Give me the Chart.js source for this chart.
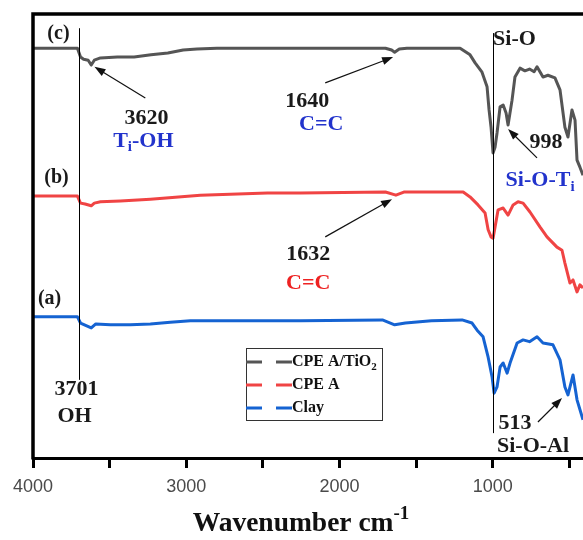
<!DOCTYPE html>
<html>
<head>
<meta charset="utf-8">
<script src="https://cdn.jsdelivr.net/npm/chart.js@4/dist/chart.umd.min.js"></script>
<style>
  html, body { margin: 0; padding: 0; background: #fff; overflow: hidden; }
</style>
</head>
<body>
<canvas id="ftir" width="583" height="540"></canvas>
<script>
// Tick positions along the reversed wavenumber axis
const xTicks = [4000, 3500, 3000, 2500, 2000, 1500, 1000, 500];
const xLabels = [4000, 3000, 2000, 1000];

// (c) CPE A/TiO2
const tio2Wn = [4000, 3710, 3690, 3670, 3640, 3620, 3600, 3560, 3450, 3340, 3230, 3120, 3020, 2930, 2800, 2300, 1700, 1660, 1640, 1610, 1560, 1213,
  1148, 1115, 1070, 1037, 1024, 1011, 998, 985, 972, 952, 932, 913, 900, 874, 855, 822, 790, 760, 730, 711, 672, 640, 594, 561, 529, 509, 483, 463, 450, 431, 411];
const tio2T = [92.3, 92.3, 90.3, 89.8, 89.6, 88.5, 89.6, 90.1, 90.3, 90.3, 90.8, 91.2, 91.9, 92.1, 92.3, 92.3, 92.3, 91.9, 91.4, 92.1, 92.3, 92.3,
  90.8, 89.0, 86.9, 83.6, 78.4, 74.5, 68.7, 70.0, 73.2, 79.1, 79.5, 77.7, 75.0, 80.6, 85.8, 87.8, 87.2, 87.6, 87.0, 88.1, 85.8, 86.2, 85.6, 82.9, 74.5, 72.3, 78.4, 76.1, 67.1, 65.5, 63.7];

// (b) CPE A
const cpeaWn = [4000, 3710, 3690, 3660, 3620, 3600, 3560, 3430, 3234, 2908, 2470, 2255, 1700, 1632, 1580, 1193,
  1148, 1096, 1050, 1030, 1011, 998, 985, 965, 932, 900, 867, 835, 802, 757, 691, 646, 581, 548, 529, 496, 476, 450, 431, 411];
const cpeaT = [59.0, 59.0, 57.4, 57.2, 56.8, 57.4, 57.7, 57.9, 58.3, 59.2, 59.7, 59.7, 59.9, 59.2, 59.9, 59.9,
  58.8, 57.0, 55.2, 51.4, 49.8, 49.5, 52.0, 55.9, 56.3, 54.7, 57.0, 57.7, 57.4, 55.4, 52.0, 49.8, 47.5, 46.8, 43.9, 39.4, 40.1, 37.4, 39.0, 38.3];

// (a) Clay
const clayWn = [4000, 3710, 3690, 3620, 3590, 3495, 3365, 3234, 3104, 2973, 2582, 2255, 1720, 1640, 1570, 1400, 1200,
  1135, 1102, 1063, 1030, 1004, 991, 972, 952, 932, 906, 887, 841, 802, 760, 711, 672, 607, 561, 529, 509, 476, 450, 411];
const clayT = [31.8, 31.8, 30.4, 29.3, 30.2, 30.0, 30.0, 30.2, 30.6, 30.9, 30.9, 30.9, 31.1, 30.0, 30.4, 30.9, 31.1,
  30.4, 28.8, 27.3, 22.7, 18.2, 14.6, 16.0, 20.5, 21.4, 19.1, 21.4, 25.9, 26.6, 26.2, 27.3, 25.9, 25.5, 22.1, 16.0, 14.2, 18.7, 13.1, 8.6];

const seriesNames = ['CPE A/TiO2', 'CPE A', 'Clay'];
const seriesColors = ['#555555', '#f04444', '#1563d2'];

function pairs(wn, t) {
  return wn.map((w, i) => ({ x: w, y: t[i] }));
}

const SERIF = "'Liberation Serif', 'DejaVu Serif', serif";

// draw text made of [string, isSub] pieces
function drawRich(ctx, parts, x, y, size, color, align) {
  ctx.save();
  ctx.fillStyle = color;
  ctx.textBaseline = 'middle';
  ctx.textAlign = 'left';
  const subSize = Math.round(size * 0.68);
  let w = 0;
  parts.forEach(p => {
    ctx.font = 'bold ' + (p[1] ? subSize : size) + 'px ' + SERIF;
    w += ctx.measureText(p[0]).width;
  });
  let cx = align === 'left' ? x : x - w / 2;
  parts.forEach(p => {
    const s = p[1] ? subSize : size;
    ctx.font = 'bold ' + s + 'px ' + SERIF;
    const dy = p[1] === 'sup' ? -size * 0.35 : (p[1] ? size * 0.3 : 0);
    ctx.fillText(p[0], cx, y + dy);
    cx += ctx.measureText(p[0]).width;
  });
  ctx.restore();
}

function arrow(ctx, x1, y1, x2, y2) {
  const a = Math.atan2(y2 - y1, x2 - x1);
  const len = 11, half = 4;
  ctx.save();
  ctx.strokeStyle = '#111';
  ctx.fillStyle = '#111';
  ctx.lineWidth = 1.2;
  ctx.beginPath();
  ctx.moveTo(x1, y1);
  ctx.lineTo(x2 - Math.cos(a) * len * 0.8, y2 - Math.sin(a) * len * 0.8);
  ctx.stroke();
  ctx.beginPath();
  ctx.moveTo(x2, y2);
  ctx.lineTo(x2 - Math.cos(a) * len - Math.sin(a) * half, y2 - Math.sin(a) * len + Math.cos(a) * half);
  ctx.lineTo(x2 - Math.cos(a) * len + Math.sin(a) * half, y2 - Math.sin(a) * len - Math.cos(a) * half);
  ctx.closePath();
  ctx.fill();
  ctx.restore();
}

const BLACK = '#1a1a1a', BLUE = '#2233cc', RED = '#ee2222';

const notes = [
  { parts: [['(c)']], wn: 3834, v: 95.5, size: 20, color: BLACK },
  { parts: [['(b)']], wn: 3847, v: 63.1, size: 20, color: BLACK },
  { parts: [['(a)']], wn: 3892, v: 35.8, size: 20, color: BLACK },
  { parts: [['3620']], wn: 3260, v: 76.6, size: 22, color: BLACK },
  { parts: [['T'], ['i', true], ['-OH']], wn: 3280, v: 71.4, size: 22, color: BLUE },
  { parts: [['1640']], wn: 2211, v: 80.4, size: 22, color: BLACK },
  { parts: [['C=C']], wn: 2119, v: 75.2, size: 22, color: BLUE },
  { parts: [['Si-O']], wn: 998, v: 94.4, size: 22, color: BLACK, align: 'left' },
  { parts: [['998']], wn: 652, v: 71.2, size: 22, color: BLACK },
  { parts: [['Si-O-T'], ['i', true]], wn: 691, v: 62.6, size: 22, color: BLUE },
  { parts: [['1632']], wn: 2204, v: 45.9, size: 22, color: BLACK },
  { parts: [['C=C']], wn: 2204, v: 39.4, size: 22, color: RED },
  { parts: [['3701']], wn: 3716, v: 15.5, size: 22, color: BLACK },
  { parts: [['OH']], wn: 3729, v: 9.5, size: 22, color: BLACK },
  { parts: [['513']], wn: 855, v: 7.9, size: 22, color: BLACK },
  { parts: [['Si-O-Al']], wn: 737, v: 2.7, size: 22, color: BLACK }
];

const arrows = [
  [3267, 81.1, 3599, 88.1],
  [2093, 84.5, 1650, 90.3],
  [711, 67.6, 900, 74.1],
  [2093, 49.8, 1657, 58.3],
  [705, 8.1, 548, 13.5]
];

const markers = [
  [3701, 96.8, 17.6],
  [1000, 95.7, 5.6]
];

const decorations = {
  id: 'decorations',
  afterDatasetsDraw(chart) {
    const ctx = chart.ctx;
    const xs = chart.scales.x, ys = chart.scales.y;
    const area = chart.chartArea;

    // frame: left and top
    ctx.save();
    ctx.strokeStyle = '#000';
    ctx.lineWidth = 3.5;
    ctx.beginPath();
    ctx.moveTo(area.left, area.bottom + 1.5);
    ctx.lineTo(area.left, area.top);
    ctx.lineTo(area.right + 2, area.top);
    ctx.stroke();

    // peak marker lines
    ctx.lineWidth = 1;
    markers.forEach(m => {
      const x = Math.round(xs.getPixelForValue(m[0])) + 0.5;
      ctx.beginPath();
      ctx.moveTo(x, ys.getPixelForValue(m[1]));
      ctx.lineTo(x, ys.getPixelForValue(m[2]));
      ctx.stroke();
    });
    ctx.restore();

    arrows.forEach(a => arrow(ctx, xs.getPixelForValue(a[0]), ys.getPixelForValue(a[1]),
      xs.getPixelForValue(a[2]), ys.getPixelForValue(a[3])));

    notes.forEach(n => drawRich(ctx, n.parts, xs.getPixelForValue(n.wn), ys.getPixelForValue(n.v),
      n.size, n.color, n.align));

    // legend box
    const lx = area.left + 213, ly = area.top + 334, lw = 136, lh = 72;
    ctx.save();
    ctx.strokeStyle = '#333';
    ctx.lineWidth = 1;
    ctx.strokeRect(lx + 0.5, ly + 0.5, lw, lh);
    chart.data.datasets.forEach((ds, i) => {
      const y = ly + 14 + i * 23;
      ctx.strokeStyle = ds.borderColor;
      ctx.lineWidth = 3;
      ctx.setLineDash([16, 14]);
      ctx.beginPath();
      ctx.moveTo(lx, y);
      ctx.lineTo(lx + 46, y);
      ctx.stroke();
      ctx.setLineDash([]);
      const parts = ds.label === 'CPE A/TiO2' ? [['CPE A/TiO'], ['2', true]] : [[ds.label]];
      drawRich(ctx, parts, lx + 46, y, 16, '#111', 'left');
    });
    ctx.restore();

    // axis title
    drawRich(ctx, [['Wavenumber cm'], ['-1', 'sup']], 301, 524, 27.5, '#111', 'center');
  }
};

new Chart(document.getElementById('ftir'), {
  type: 'line',
  data: {
    datasets: [
      { label: seriesNames[0], data: pairs(tio2Wn, tio2T), borderColor: seriesColors[0] },
      { label: seriesNames[1], data: pairs(cpeaWn, cpeaT), borderColor: seriesColors[1] },
      { label: seriesNames[2], data: pairs(clayWn, clayT), borderColor: seriesColors[2] }
    ]
  },
  options: {
    responsive: false,
    animation: false,
    layout: { padding: { left: 33, top: 14, right: 0, bottom: 0 } },
    elements: {
      point: { radius: 0 },
      line: { borderWidth: 3, tension: 0, fill: false, borderJoinStyle: 'round' }
    },
    plugins: { legend: { display: false }, tooltip: { enabled: false } },
    scales: {
      x: {
        type: 'linear',
        reverse: true,
        min: 411,
        max: 4000,
        afterBuildTicks: s => { s.ticks = xTicks.map(v => ({ value: v })); },
        afterFit: s => { s.height = 82; },
        ticks: {
          autoSkip: false,
          maxRotation: 0,
          padding: 8,
          color: '#4a4a4a',
          font: { family: "'Liberation Sans', Arial, sans-serif", size: 18 },
          callback: v => xLabels.includes(v) ? String(v) : ''
        },
        grid: { display: true, drawOnChartArea: false, drawTicks: true, tickLength: 10, tickWidth: 3, tickColor: '#000' },
        border: { display: true, color: '#000', width: 3 }
      },
      y: { display: false, min: 0, max: 100 }
    }
  },
  plugins: [decorations]
});
</script>
</body>
</html>
